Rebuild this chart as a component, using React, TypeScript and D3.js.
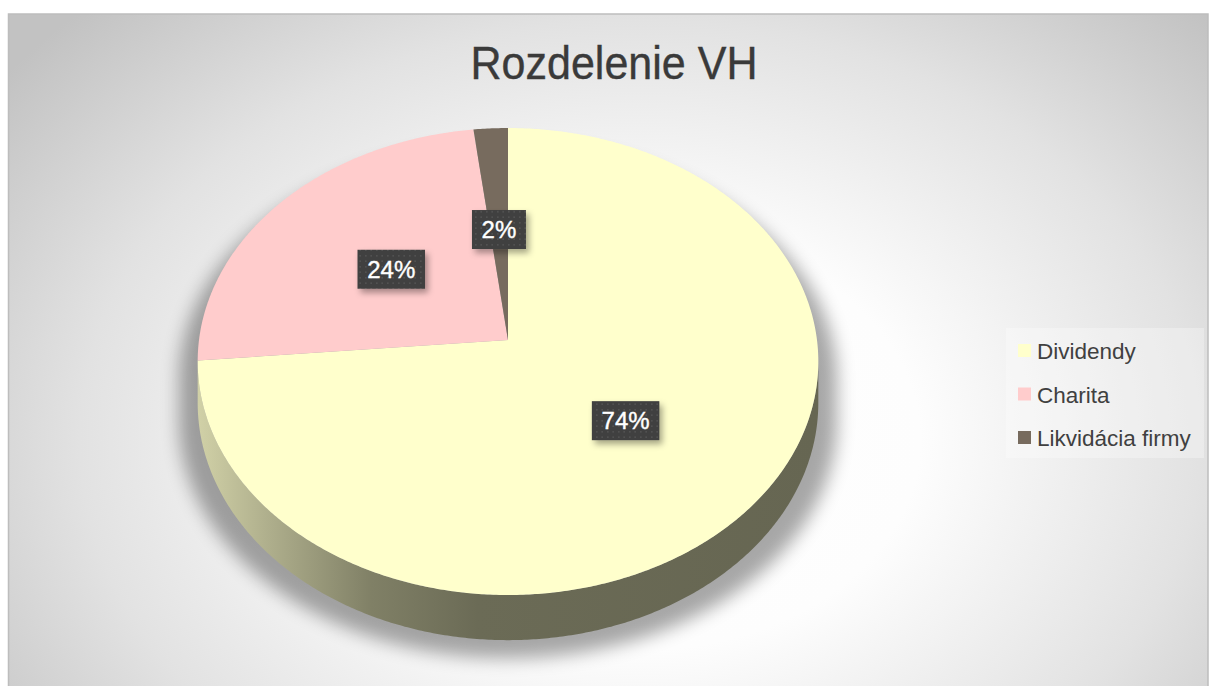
import React from 'react';
import * as d3 from 'd3';

const title = 'Rozdelenie VH';
const categories = ['Dividendy', 'Charita', 'Likvidácia firmy'];
const values = [73.6, 24.45, 1.95];
const colors = ['#FFFFCC', '#FFCCCC', '#776B5E'];

const W = 1209;
const H = 686;
// projected 3D pie geometry
const CX = 508;
const CY = 340;
const A = 309;
const B = 231.5;
const T = 0.0921;
const D = 41;

function proj(alpha: number, r = 1): [number, number] {
  const u = Math.sin(alpha) * r;
  const w = -Math.cos(alpha) * r;
  const k = 1 - T * w;
  return [CX + (A * u) / k, CY + (B * w) / k];
}
function projBottom(alpha: number): [number, number] {
  const [x, y] = proj(alpha);
  const w = -Math.cos(alpha);
  return [x, y + D / (1 - T * w)];
}
function samples(a0: number, a1: number): number[] {
  const n = Math.max(2, Math.ceil(Math.abs(a1 - a0) / (Math.PI / 360)));
  return d3.range(n + 1).map((i) => a0 + ((a1 - a0) * i) / n);
}
const line = d3.line<[number, number]>();

function shade(c: string, k: number): string {
  const rgb = d3.rgb(c);
  return d3.rgb(rgb.r * k, rgb.g * k, rgb.b * k).formatHex();
}

export default function App() {
  const pie = d3.pie<number>().sort(null).value((d) => d);
  const arcs = pie(values);
  const total = d3.sum(values);
  const vis0 = Math.acos(-T);
  const vis1 = 2 * Math.PI - vis0;

  // silhouette for shadow
  const silTop = samples(vis1 - 2 * Math.PI, vis0).map((a) => proj(a));
  const silBot = samples(vis0, vis1).map((a) => projBottom(a));
  const silhouette = line([...silTop, ...silBot]) + 'Z';

  const leftX = CX - A * 1.005;
  const rightX = CX + A * 1.005;

  return (
    <svg
      width={W}
      height={H}
      style={{ position: 'absolute', left: 0, top: 0 }}
      fontFamily="'Liberation Sans', Arial, sans-serif"
    >
      <defs>
        <radialGradient
          id="bg"
          gradientUnits="userSpaceOnUse"
          cx={0}
          cy={0}
          r={1}
          gradientTransform="translate(640,440) scale(800,600)"
        >
          <stop offset="0" stopColor="#ffffff" />
          <stop offset="0.35" stopColor="#fdfdfd" />
          <stop offset="0.7" stopColor="#e2e2e2" />
          <stop offset="1" stopColor="#c2c2c2" />
        </radialGradient>
        {colors.map((c, i) => (
          <linearGradient
            key={i}
            id={`wall${i}`}
            gradientUnits="userSpaceOnUse"
            x1={leftX}
            x2={rightX}
            y1={0}
            y2={0}
          >
            <stop offset="0" stopColor={shade(c, 0.82)} />
            <stop offset="0.12" stopColor={shade(c, 0.68)} />
            <stop offset="0.28" stopColor={shade(c, 0.5)} />
            <stop offset="0.45" stopColor={shade(c, 0.42)} />
            <stop offset="1" stopColor={shade(c, 0.4)} />
          </linearGradient>
        ))}
        <filter id="blur" x="-20%" y="-20%" width="140%" height="140%">
          <feGaussianBlur stdDeviation="9" />
        </filter>
        <filter id="lblShadow" x="-30%" y="-30%" width="160%" height="160%">
          <feDropShadow dx="3" dy="4" stdDeviation="3" floodColor="#000" floodOpacity="0.35" />
        </filter>
        <pattern id="dots" width="5.5" height="5.5" patternUnits="userSpaceOnUse">
          <rect width="5.5" height="5.5" fill="#3f3f3f" />
          <circle cx="2.75" cy="2.75" r="0.9" fill="#575757" />
        </pattern>
      </defs>

      <rect x={8.5} y={14} width={1199.5} height={690} fill="url(#bg)" stroke="#bdbdbd" strokeWidth={1.5} />

      <text
        x={614}
        y={79}
        textAnchor="middle"
        fontSize={47}
        fill="#3a3a3a"
        stroke="#3a3a3a"
        strokeWidth={0.4}
        textLength={287}
        lengthAdjust="spacingAndGlyphs"
      >
        {title}
      </text>

      {/* shadow */}
      <g filter="url(#blur)" opacity={0.34}>
        <path
          d={silhouette}
          fill="#000"
          transform={`translate(${CX},${CY + 18}) scale(1.06,1.0) translate(${-CX},${-CY})`}
        />
      </g>

      {/* walls */}
      {arcs.map((a, i) => {
        const b0 = Math.max(a.startAngle, vis0);
        const b1 = Math.min(a.endAngle, vis1);
        if (b1 <= b0) return null;
        const top = samples(b0, b1).map((x) => proj(x));
        const bot = samples(b1, b0).map((x) => projBottom(x));
        return <path key={'w' + i} d={line([...top, ...bot]) + 'Z'} fill={`url(#wall${i})`} />;
      })}

      {/* top faces */}
      {arcs.map((a, i) => {
        const pts = samples(a.startAngle, a.endAngle).map((x) => proj(x));
        return <path key={'t' + i} d={line([[CX, CY], ...pts]) + 'Z'} fill={colors[i]} />;
      })}

      {/* data labels */}
      {arcs.map((a, i) => {
        const mid = (a.startAngle + a.endAngle) / 2;
        const [x, y] = proj(mid, 0.5);
        const label = `${Math.round((a.value / total) * 100)}%`;
        const w = label.length * 13.5 + 27;
        const h = 39;
        return (
          <g key={'l' + i}>
            <rect x={x - w / 2} y={y - h / 2} width={w} height={h} fill="url(#dots)" filter="url(#lblShadow)" />
            <text
              x={x}
              y={y + 8.5}
              textAnchor="middle"
              fontSize={24}
              fill="#ffffff"
              stroke="#ffffff"
              strokeWidth={0.4}
            >
              {label}
            </text>
          </g>
        );
      })}

      {/* legend */}
      <rect x={1006} y={328} width={198} height={130} fill="#ffffff" opacity={0.3} />
      {categories.map((c, i) => (
        <g key={'lg' + i} transform={`translate(1018,${344 + i * 43.5})`}>
          <rect width={13} height={13} fill={colors[i]} />
          <text x={19} y={15} fontSize={22.5} fill="#404040">
            {c}
          </text>
        </g>
      ))}
    </svg>
  );
}
